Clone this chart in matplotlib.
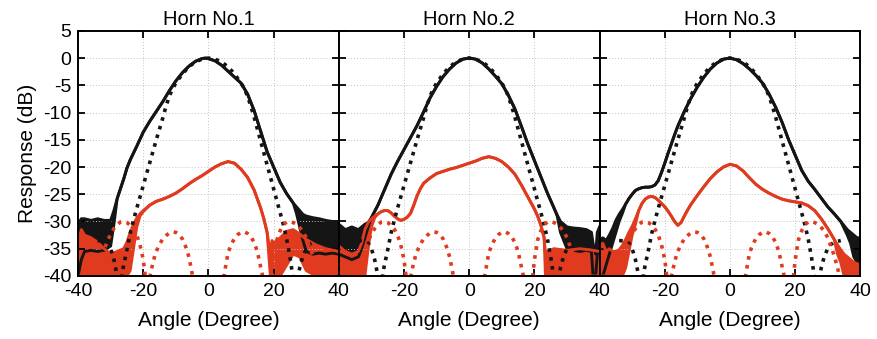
import numpy as np
import matplotlib
matplotlib.use("Agg")
import matplotlib.pyplot as plt

plt.rcParams['font.family'] = ['Liberation Sans', 'DejaVu Sans']
plt.rcParams['axes.unicode_minus'] = False

titles = ['Horn No.1', 'Horn No.2', 'Horn No.3']

# simulated co-polar (black dotted), same for all horns
sim_co_ang = [-34, -32, -31, -30, -29, -28, -27.2, -26.5, -26, -25, -24, -23, -22, -21, -20, -19, -18, -17,
              -16, -15, -14, -13, -12, -11, -10, -8, -6, -4, -2, 0, 2, 4, 6, 8, 10, 11, 12, 13, 14, 15, 16,
              17, 18, 19, 20, 21, 22, 23, 24, 25, 26, 26.6, 27.3, 28, 29, 30, 31, 32, 34]
sim_co_db = [-33.5, -33.6, -34.0, -35.0, -37.0, -40.0, -46, -39.5, -38.0, -35.2, -32.2, -29.8, -27.6, -25.5,
             -23.4, -21.3, -19.2, -17.1, -15.0, -13.0, -11.0, -8.8, -7.0, -5.6, -4.6, -2.9, -1.6, -0.7, -0.2,
             0, -0.2, -0.7, -1.6, -2.9, -4.6, -5.6, -7.0, -8.8, -10.8, -13.0, -15.2, -17.4, -19.6, -21.8,
             -24.0, -26.2, -28.4, -30.6, -33.2, -36.5, -40.5, -46, -41, -38.5, -36.3, -35, -34.2, -33.8, -33.5]

# simulated cross-polar (red dotted)
sim_x_ang = [-36, -34.2, -33, -32, -31, -30, -29, -28, -27, -26, -25, -24, -23, -22, -21, -20, -19.4, -18.8,
             -18.1, -17.3, -16.3, -15, -14, -13, -12, -11, -10, -9, -8, -7, -6, -5.4, -4.7, -3, 0, 3, 4.6,
             5.2, 6, 7, 8, 9, 10, 11, 12, 13, 14, 15, 16, 16.8, 18.3, 19.5, 20, 21, 22, 23, 24, 25, 26, 27,
             28, 29, 30, 31, 32, 33, 34, 36]
sim_x_db = [-46, -40, -37, -35.2, -33.6, -32.3, -31.3, -30.6, -30.1, -30.0, -30.2, -30.7, -31.4, -32.5, -34.3,
            -37, -40, -48, -40.5, -38.3, -35.9, -34.2, -33.2, -32.6, -32.1, -31.9, -32.0, -32.4, -33.2, -34.6,
            -36.5, -38.3, -40.5, -47, -60, -47, -40.5, -38.5, -35.8, -34.2, -33.1, -32.4, -32.0, -31.9, -32.2,
            -32.8, -33.8, -35.5, -38.3, -40.5, -48, -40, -37.1, -33.4, -31.7, -30.6, -30.1, -30.0, -30.2,
            -30.5, -31.1, -31.8, -33, -34.6, -36.3, -38.5, -41, -46]

# measured co-polar, horn 1 (top / bottom of noisy trace)
p1_co_ang = [-40, -39, -38, -36, -34, -32, -30, -29, -28, -27, -26, -25, -24, -22, -20, -18, -16, -14, -12,
             -10, -8, -6, -4, -2, -1, 0, 2, 4, 6, 8, 10, 12, 14, 16, 18, 20, 22, 24, 26, 27, 28, 29, 30, 32,
             34, 36, 38, 40]
p1_co_top = [-30.5, -29.5, -29.5, -29.8, -29.5, -29.8, -29.8, -28.0, -25.8, -24.0, -22.2, -20.2, -18.7, -16.2,
             -13.6, -11.6, -9.8, -8.0, -6.0, -4.2, -2.7, -1.5, -0.6, -0.1, 0, -0.1, -0.5, -1.3, -2.4, -3.5,
             -4.6, -6.6, -9.6, -13.4, -17.2, -20.0, -22.8, -24.9, -26.6, -27.3, -28.0, -28.7, -29.0, -29.3,
             -29.5, -29.8, -30.0, -30.0]
p1_co_bot = [-40, -37, -35.5, -35.3, -35.5, -35.3, -34.5, -30.5, -25.8, -24.0, -22.2, -20.2, -18.7, -16.2,
             -13.6, -11.6, -9.8, -8.0, -6.0, -4.2, -2.7, -1.5, -0.6, -0.1, 0, -0.1, -0.5, -1.3, -2.4, -3.5,
             -4.6, -6.6, -9.6, -13.4, -17.2, -20.0, -22.8, -24.9, -26.6, -28.5, -31.0, -33.5, -35.5, -36.0,
             -35.8, -36.0, -35.8, -36.0]

# measured cross-polar, horn 1
p1_x_ang = [-40, -39, -38, -36, -34, -32, -30, -28, -26, -25, -24, -23, -22, -21, -20, -18, -16, -14, -12,
            -10, -8, -6, -4, -2, 0, 2, 4, 6, 8, 10, 12, 14, 16, 17, 18, 19, 19.5, 20, 22, 24, 26, 28, 30,
            33, 36, 40]
p1_x_top = [-34, -31.5, -32.5, -33, -33.8, -35, -36, -35.5, -35, -33.8, -32, -30.5, -29.4, -28.6, -28.0,
            -27.0, -26.3, -25.9, -25.4, -24.8, -24.0, -23.1, -22.3, -21.6, -20.8, -20.0, -19.4, -19.0,
            -19.3, -20.4, -21.9, -24.2, -27.5, -29.5, -32, -36, -33.5, -34, -33, -31.8, -31.5, -32.3, -33.3,
            -34.3, -35, -35.5]
p1_x_bot = [-40, -40, -40, -40, -40, -40, -40, -40, -40, -40, -39, -35, -31, -29, -28.2, -27.0, -26.3, -25.9,
            -25.4, -24.8, -24.0, -23.1, -22.3, -21.6, -20.8, -20.0, -19.4, -19.0, -19.3, -20.4, -21.9,
            -24.2, -27.5, -29.5, -32, -40, -40, -40, -40, -38, -36, -36.5, -39, -40, -40, -40]

# measured co-polar, horn 2
p2_co_ang = [-40, -38, -36, -34, -33, -32, -31, -30, -28, -26, -24, -22, -20, -18, -16, -14, -12, -10, -8,
             -6, -4, -2, 0, 2, 4, 6, 8, 10, 12, 14, 16, 18, 20, 22, 24, 26, 27, 28, 30, 32, 34, 36, 37.5,
             38, 38.8, 39.3, 40]
p2_co_top = [-30.5, -31.5, -31, -31.5, -31, -30.5, -30.2, -29.3, -27.0, -24.2, -21.4, -19.0, -16.8, -14.6,
             -12.4, -9.9, -7.3, -5.2, -3.4, -2.0, -0.9, -0.2, 0, -0.2, -0.9, -2.0, -3.3, -4.7, -6.8, -9.3,
             -12.5, -15.8, -18.8, -21.8, -24.8, -27.5, -28.8, -30.0, -31.0, -31.2, -31.3, -31.5, -32, -34,
             -36, -32, -31]
p2_co_bot = [-36, -36.5, -37, -36.5, -35, -33, -31, -29.3, -27.0, -24.2, -21.4, -19.0, -16.8, -14.6, -12.4,
             -9.9, -7.3, -5.2, -3.4, -2.0, -0.9, -0.2, 0, -0.2, -0.9, -2.0, -3.3, -4.7, -6.8, -9.3, -12.5,
             -15.8, -18.8, -21.8, -24.8, -27.5, -29, -32, -35, -35.3, -35.5, -35.3, -35.5, -40, -40, -36,
             -35.5]

# measured cross-polar, horn 2
p2_x_ang = [-40, -38, -36, -34, -33, -32, -31, -30, -29, -28, -27, -26, -25, -24, -23, -22, -21, -20, -19,
            -18, -17, -16, -15, -14, -12, -10, -8, -6, -4, -2, 0, 2, 4, 6, 8, 10, 12, 14, 16, 18, 20, 21,
            22, 23, 23.4, 24, 26, 30, 34, 37, 40]
p2_x_top = [-34.5, -35.5, -36, -35.5, -34, -31.5, -30.2, -29.5, -29, -28.6, -28.2, -28.0, -28.0, -28.4, -29,
            -29.5, -29.8, -29.6, -29.2, -28.5, -27, -25.3, -24, -23, -22, -21.2, -20.8, -20.4, -20.1, -19.7,
            -19.3, -18.9, -18.4, -18.1, -18.4, -19.0, -20.0, -21.3, -23.3, -25.5, -27.7, -29, -30.7, -33,
            -36, -35.5, -35, -35.3, -35, -35.2, -35.5]
p2_x_bot = [-40, -40, -40, -40, -40, -40, -35, -31, -29.3, -28.6, -28.2, -28.0, -28.0, -28.4, -29, -29.5,
            -29.8, -29.6, -29.2, -28.5, -27, -25.3, -24, -23, -22, -21.2, -20.8, -20.4, -20.1, -19.7, -19.3,
            -18.9, -18.4, -18.1, -18.4, -19.0, -20.0, -21.3, -23.3, -25.5, -27.7, -29, -30.7, -33, -40, -40,
            -40, -40, -40, -40, -40]

# measured co-polar, horn 3
p3_co_ang = [-40, -39, -38, -37, -36, -35, -34, -33, -32, -31, -30, -29, -28, -27, -26, -25, -24, -23, -22,
             -21, -20, -19, -18, -17, -16, -14, -12, -10, -8, -6, -4, -2, 0, 2, 4, 6, 8, 10, 12, 14, 16, 18,
             20, 22, 24, 26, 28, 30, 32, 34, 36, 37, 38, 39, 40]
p3_co_top = [-33.5, -33, -33.5, -32.5, -31.3, -29.8, -28.7, -27.8, -26.8, -25.8, -25.0, -24.3, -24.0, -23.8,
             -23.7, -23.7, -23.6, -23.3, -22.5, -21.0, -19.3, -17.5, -15.8, -14.1, -12.5, -9.8, -7.4, -5.3,
             -3.5, -2.0, -0.9, -0.2, 0, -0.3, -1.0, -2.0, -3.2, -4.6, -6.6, -9.0, -11.8, -15.0, -17.8, -20.6,
             -22.6, -24.1, -25.7, -27.3, -28.6, -30.0, -31.5, -32.0, -32.5, -33, -33]
p3_co_bot = [-40, -40, -38, -36, -34, -32, -30, -28.5, -26.8, -25.8, -25.0, -24.3, -24.0, -23.8, -23.7,
             -23.7, -23.6, -23.3, -22.5, -21.0, -19.3, -17.5, -15.8, -14.1, -12.5, -9.8, -7.4, -5.3, -3.5,
             -2.0, -0.9, -0.2, 0, -0.3, -1.0, -2.0, -3.2, -4.6, -6.6, -9.0, -11.8, -15.0, -17.8, -20.6,
             -22.6, -24.1, -25.7, -27.3, -28.6, -30.0, -32.5, -34, -36.5, -37.5, -37.5]

# measured cross-polar, horn 3
p3_x_ang = [-40, -39, -38, -37, -36, -35, -34, -33, -32, -31, -30, -29, -28, -27, -26, -25, -24, -23, -22,
            -21, -20, -19, -18, -17, -16, -15, -14, -13, -12, -10, -8, -6, -4, -2, 0, 2, 4, 6, 8, 10, 12,
            14, 16, 18, 20, 22, 24, 26, 28, 30, 32, 33, 34, 35, 36, 37, 38, 40]
p3_x_top = [-35, -34, -35.5, -35, -35.5, -35.5, -35.2, -34.4, -33.3, -32, -30.9, -29.5, -28, -26.7, -25.9,
            -25.5, -25.4, -25.6, -26.1, -26.7, -27.3, -28.1, -29, -30, -30.7, -30.2, -29, -27.9, -26.9,
            -25.2, -23.6, -22.1, -20.9, -20.0, -19.5, -19.8, -20.7, -22.0, -23.2, -24.1, -24.8, -25.4,
            -25.9, -26.2, -26.4, -26.6, -27.1, -28.0, -29.5, -31.3, -33.3, -34.3, -35.2, -36, -36.5, -37,
            -37.5, -38]
p3_x_bot = [-40, -40, -40, -40, -40, -40, -40, -40, -38.5, -35.5, -32.5, -30.5, -28, -26.7, -25.9, -25.5,
            -25.4, -25.6, -26.1, -26.7, -27.3, -28.1, -29, -30, -30.7, -30.2, -29, -27.9, -26.9, -25.2,
            -23.6, -22.1, -20.9, -20.0, -19.5, -19.8, -20.7, -22.0, -23.2, -24.1, -24.8, -25.4, -25.9,
            -26.2, -26.4, -26.6, -27.1, -28.0, -29.5, -31.3, -33.3, -36, -37.5, -40, -40, -40, -40, -40]

co_meas = [(p1_co_ang, p1_co_top, p1_co_bot), (p2_co_ang, p2_co_top, p2_co_bot), (p3_co_ang, p3_co_top, p3_co_bot)]
x_meas = [(p1_x_ang, p1_x_top, p1_x_bot), (p2_x_ang, p2_x_top, p2_x_bot), (p3_x_ang, p3_x_top, p3_x_bot)]

black = '#151515'
red = '#e03b1f'

fig, axes = plt.subplots(1, 3, figsize=(8.77, 3.39), dpi=100, sharey=True)
fig.subplots_adjust(left=0.089, right=0.981, bottom=0.186, top=0.909, wspace=0)

def draw_trace(ax, ang, top, bot, color):
    ax.fill_between(ang, bot, top, color=color, lw=0)
    ax.plot(ang, top, color=color, lw=2.1)
    ax.plot(ang, bot, color=color, lw=2.1)

for i, ax in enumerate(axes):
    draw_trace(ax, *co_meas[i], black)
    draw_trace(ax, *x_meas[i], red)
    ax.plot(sim_co_ang, sim_co_db, color=black, lw=2.6, linestyle=(0, (1, 1.5)))
    ax.plot(sim_x_ang, sim_x_db, color=red, lw=2.6, linestyle=(0, (1, 1.5)))

    ax.set_xlim(-40, 40)
    ax.set_ylim(-40, 5)
    if i == 0:
        ax.set_xticks([-40, -20, 0, 20, 40])
    else:
        ax.set_xticks([-20, 0, 20, 40])
    ax.set_yticks(np.arange(-40, 6, 5))
    ax.grid(True, color='#c4c4c4', linestyle=(0, (1, 2)), lw=0.7)
    ax.tick_params(direction='in', top=True, right=True, length=5, width=1.3,
                   labelsize=14, pad=5)
    for s in ax.spines.values():
        s.set_linewidth(1.4)
    ax.set_title(titles[i], fontsize=14.5, pad=4)
    ax.set_xlabel('Angle (Degree)', fontsize=15, labelpad=8)

axes[0].set_ylabel('Response (dB)', fontsize=15, labelpad=4)

fig.savefig('out.png', dpi=100)
